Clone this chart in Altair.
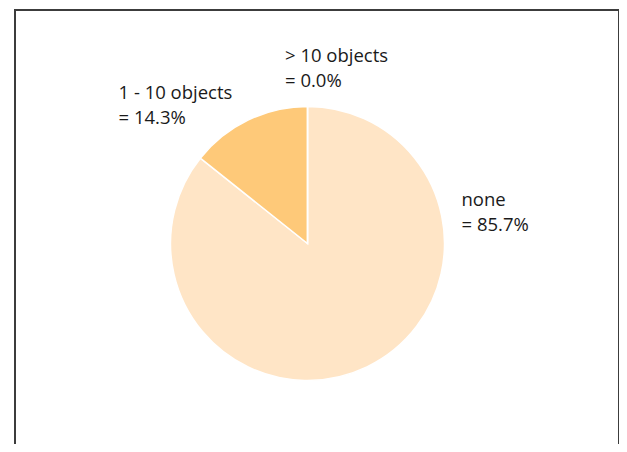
import altair as alt
import pandas as pd

categories = ["none", "1 - 10 objects", "> 10 objects"]
percentages = [85.7, 14.3, 0.0]
slice_colors = ["#FFE5C6", "#FEC979", "#F5A742"]

df = pd.DataFrame({
    "category": categories,
    "pct": percentages,
    "idx": list(range(len(categories))),
})
df["label"] = [f"{c}\n= {p:.1f}%" for c, p in zip(categories, percentages)]

W, H = 604, 434

color_scale = alt.Scale(domain=categories, range=slice_colors)

pie = alt.Chart(df).mark_arc(
    outerRadius=137, stroke="white", strokeWidth=1.5
).encode(
    theta=alt.Theta("pct:Q", stack=True),
    color=alt.Color("category:N", scale=color_scale, legend=None),
    order=alt.Order("idx:Q"),
    x=alt.value(292.5),
    y=alt.value(233.5),
)

label_pos = {
    "none": (446.5, 196),
    "1 - 10 objects": (103.5, 89),
    "> 10 objects": (270, 52),
}

texts = []
for cat in categories:
    px, py = label_pos[cat]
    t = alt.Chart(df).transform_filter(
        alt.datum.category == cat
    ).mark_text(
        align="left", baseline="alphabetic", lineBreak="\n", lineHeight=24.5,
        font="Open Sans", fontSize=18.5, color="#1a1a1a",
    ).encode(
        text="label:N",
        x=alt.value(px),
        y=alt.value(py),
    )
    texts.append(t)

border_color = "#3c3c3c"
left = alt.Chart(df).mark_rule(color=border_color, strokeWidth=2).encode(
    x=alt.value(0), y=alt.value(0), y2=alt.value(H + 20))
right = alt.Chart(df).mark_rule(color=border_color, strokeWidth=2).encode(
    x=alt.value(W), y=alt.value(0), y2=alt.value(H + 20))
top = alt.Chart(df).mark_rule(color=border_color, strokeWidth=2).encode(
    x=alt.value(-1), x2=alt.value(W + 1), y=alt.value(0))

chart = alt.layer(pie, *texts, left, right, top).properties(
    width=W, height=H,
    autosize=alt.AutoSizeParams(type="none"),
    padding={"left": 7, "top": 2, "right": 0, "bottom": 0},
).configure_view(stroke=None)

chart.save("out.html", embed_options={"renderer": "svg", "actions": False})
